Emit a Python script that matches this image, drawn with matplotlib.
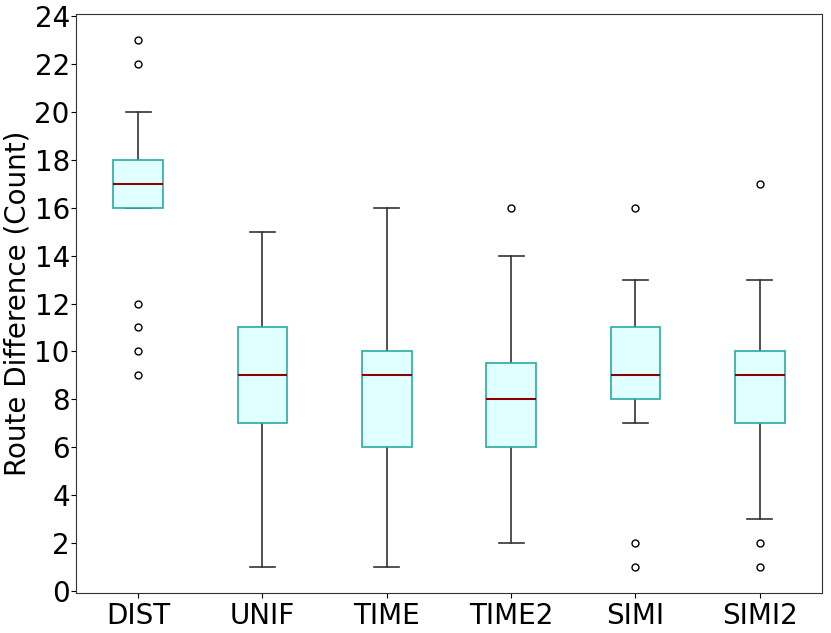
#Box plot of route differences per method
import matplotlib
matplotlib.use('Agg')
import matplotlib.pyplot as plt

#category labels
methods = ['DIST', 'UNIF', 'TIME', 'TIME2', 'SIMI', 'SIMI2']

#box statistics
q1 = [16, 7, 6, 6, 8, 7]
med = [17, 9, 9, 8, 9, 9]
q3 = [18, 11, 10, 9.5, 11, 10]
whislo = [16, 1, 1, 2, 7, 3]
whishi = [20, 15, 16, 14, 13, 13]
fliers = [[23, 22, 12, 11, 10, 9], [], [], [16], [16, 2, 1], [17, 2, 1]]

#build the stats list that bxp wants
stats = []
for i in range(len(methods)):
    stats.append({'label': methods[i], 'q1': q1[i], 'med': med[i], 'q3': q3[i],
                  'whislo': whislo[i], 'whishi': whishi[i], 'fliers': fliers[i]})

fig, ax = plt.subplots(figsize=(8.31, 6.33), dpi=100)
fig.subplots_adjust(left=0.0915, right=0.989, bottom=0.063, top=0.978)

#box drawn above the caps so the DIST lower cap hides under the box edge
ax.bxp(stats, widths=0.4, patch_artist=True,
       boxprops=dict(facecolor='lightcyan', edgecolor='#2aaaa2', linewidth=1.2, zorder=3),
       medianprops=dict(color='darkred', linewidth=1.5, zorder=4),
       whiskerprops=dict(color='#333333', linewidth=1.2),
       capprops=dict(color='#333333', linewidth=1.2),
       flierprops=dict(marker='o', markerfacecolor='none', markeredgecolor='black', markersize=5))

ax.set_ylim(-0.1, 24.1)
ax.set_yticks(range(0, 25, 2))
ax.tick_params(axis='both', labelsize=20)
ax.tick_params(axis='y', pad=1)
ax.tick_params(axis='x', pad=3)
ax.set_ylabel('Route Difference (Count)', fontsize=20, labelpad=2)
for s in ax.spines.values():
    s.set_color('#333333')

fig.savefig('out.png')
